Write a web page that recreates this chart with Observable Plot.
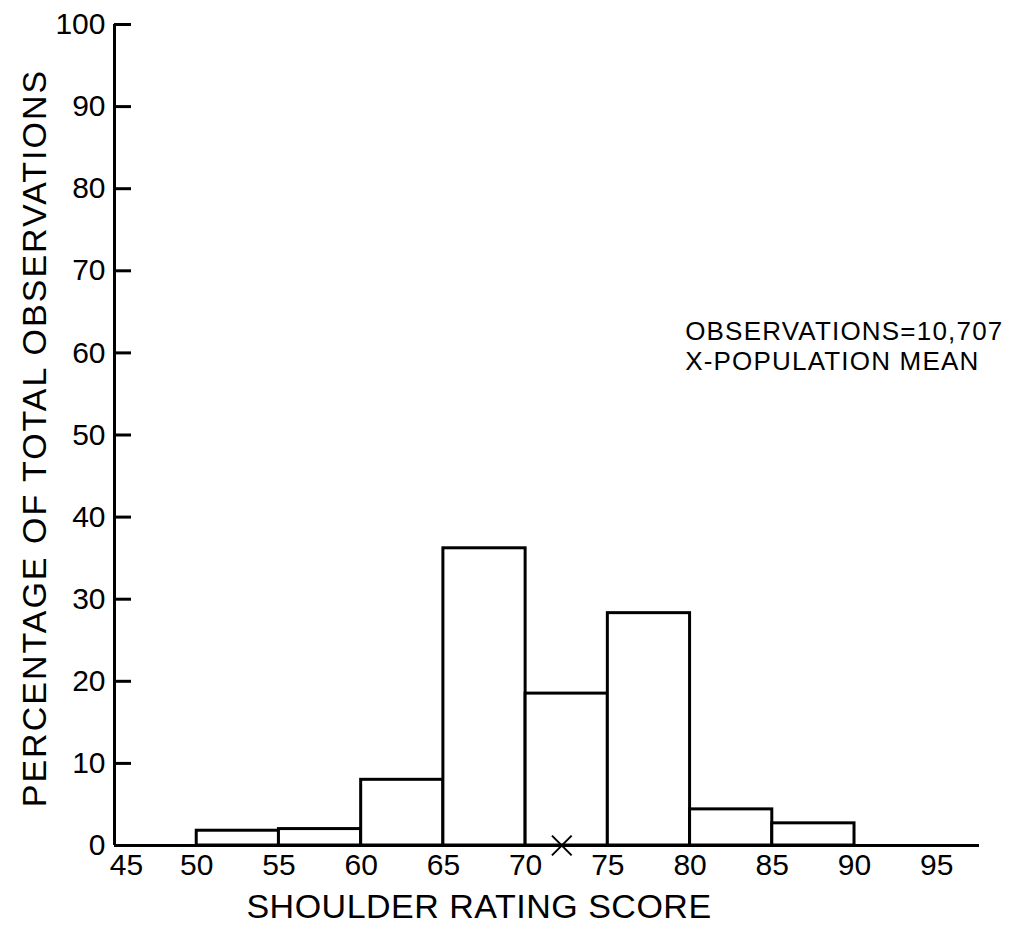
<!DOCTYPE html>
<html>
<head>
<meta charset="utf-8">
<script src="https://cdn.jsdelivr.net/npm/d3@7"></script>
<script src="https://cdn.jsdelivr.net/npm/@observablehq/plot@0.6"></script>
<style>
  html, body { margin: 0; padding: 0; background: #fff; }
  #chart svg { display: block; }
</style>
</head>
<body>
<div id="chart"></div>
<script>
// Bin lower edges (shoulder rating score), bin width 5
const binStarts = [50, 55, 60, 65, 70, 75, 80, 85];
const binWidth = 5;
// Percentage of total observations per bin
const percentages = [1.8, 2.0, 8.0, 36.2, 18.5, 28.3, 4.4, 2.7];
// Population mean marker
const populationMean = 72.2;
// Axis ticks
const xTicks = [45, 50, 55, 60, 65, 70, 75, 80, 85, 90, 95];
const yTicks = [0, 10, 20, 30, 40, 50, 60, 70, 80, 90, 100];
// Text
const xTitle = "SHOULDER RATING SCORE";
const yTitle = "PERCENTAGE OF TOTAL OBSERVATIONS";
const annotationLines = ["OBSERVATIONS=10,707", "X-POPULATION MEAN"];
const annotationX = 79.7;
const annotationY = [62.6, 58.9];

const bins = binStarts.map((s, i) => ({x1: s, x2: s + binWidth, y: percentages[i]}));
const annotations = annotationLines.map((t, i) => ({text: t, x: annotationX, y: annotationY[i]}));

const FONT = "'Liberation Sans', 'DejaVu Sans', sans-serif";

const chart = Plot.plot({
  width: 1028,
  height: 938,
  marginLeft: 114,
  marginRight: 49,
  marginTop: 24,
  marginBottom: 93,
  style: {background: "#fff", color: "#000", fontFamily: FONT},
  x: {domain: [45, 97.6], label: null},
  y: {domain: [0, 100], label: null},
  marks: [
    Plot.rectY(bins, {x1: "x1", x2: "x2", y: "y", fill: "#fff", stroke: "#000", strokeWidth: 3}),
    Plot.ruleY([0], {stroke: "#000", strokeWidth: 3}),
    Plot.ruleX([45], {y1: 0, y2: 100, stroke: "#000", strokeWidth: 3}),
    // inward tick marks on the y axis
    Plot.axisY({ticks: yTicks, tickSize: 17, text: null, dx: 17, strokeWidth: 3}),
    Plot.axisY({ticks: yTicks, tickSize: 0, tickPadding: 9, fontSize: 30, tickFormat: d => String(d)}),
    Plot.axisX({ticks: xTicks.slice(0, 1), tickSize: 0, tickPadding: 8, dx: 12, fontSize: 30, tickFormat: d => String(d)}),
    Plot.axisX({ticks: xTicks.slice(1), tickSize: 0, tickPadding: 8, fontSize: 30, tickFormat: d => String(d)}),
    Plot.dot([{x: populationMean, y: 0}], {x: "x", y: "y", symbol: "times", r: 9, stroke: "#000", strokeWidth: 2}),
    Plot.text(annotations, {x: "x", y: "y", text: "text", textAnchor: "start", fontSize: 26, fill: "#000"}),
    Plot.text([xTitle], {frameAnchor: "bottom", textAnchor: "middle", dx: -68, dy: 72, fontSize: 34, fill: "#000"}),
    Plot.text([yTitle], {frameAnchor: "left", textAnchor: "middle", rotate: -90, dx: -79, dy: 3, fontSize: 34, fill: "#000"})
  ]
});
// letter spacing for lettering-like titles
const sel = d3.select(chart).selectAll("text");
sel.filter(function() { return this.textContent === yTitle; }).style("letter-spacing", "2px");
sel.filter(function() { return this.textContent === xTitle; }).style("letter-spacing", "0.5px");
sel.filter(function() { return annotationLines.includes(this.textContent); }).style("letter-spacing", "1.2px");
document.getElementById("chart").appendChild(chart);
</script>
</body>
</html>
